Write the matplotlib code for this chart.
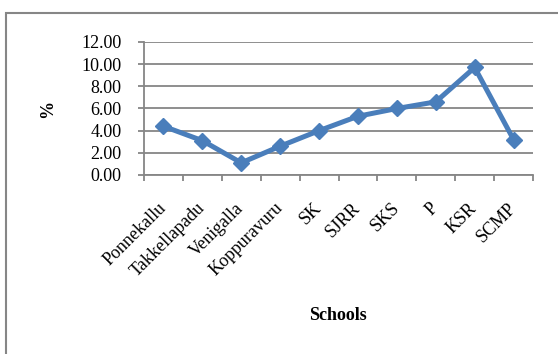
import matplotlib
matplotlib.use("Agg")
import matplotlib.pyplot as plt
from matplotlib.patches import Rectangle
from matplotlib.ticker import FixedLocator

schools = ["Ponnekallu", "Takkellapadu", "Venigalla", "Koppuravuru", "SK",
           "SJRR", "SKS", "P", "KSR", "SCMP"]
percent = [4.4, 3.1, 1.1, 2.6, 4.0, 5.3, 6.0, 6.6, 9.7, 3.2]
yticks = [0, 2, 4, 6, 8, 10, 12]

plt.rcParams['font.family'] = ['Liberation Serif', 'DejaVu Serif']

W, H = 558, 354
fig = plt.figure(figsize=(W / 100, H / 100), dpi=100)
ax = fig.add_axes([144 / W, 1 - 175 / H, (533 - 144) / W, (175 - 42) / H])

grey = "#868686"
blue = "#4A7EBB"
fs = 13

x = range(len(schools))
ax.plot(x, percent, color=blue, lw=3.6, marker="D", ms=8.5,
        solid_joinstyle="miter", zorder=3)

ax.set_xlim(-0.5, len(schools) - 0.5)
ax.set_ylim(0, 12)
ax.set_yticks(yticks)
ax.set_yticklabels(["%.2f" % v for v in yticks], fontsize=fs)
ax.yaxis.grid(True, color=grey, lw=1.3)
ax.set_axisbelow(True)

# labels sit in the middle of each category, ticks mark the boundaries
ax.set_xticks(list(x))
ax.set_xticklabels(schools, rotation=45, ha="right", va="center",
                   rotation_mode="anchor", fontsize=fs)
ax.tick_params(axis="x", which="major", length=0, pad=22)
ax.xaxis.set_minor_locator(FixedLocator([i - 0.5 for i in range(len(schools) + 1)]))
ax.tick_params(axis="x", which="minor", length=4, width=1.3, color=grey,
               direction="out")
ax.tick_params(axis="y", length=4, width=1.3, color=grey, direction="out", pad=12)

for side in ("top", "right"):
    ax.spines[side].set_visible(False)
for side in ("left", "bottom"):
    ax.spines[side].set_color(grey)
    ax.spines[side].set_linewidth(1.3)

ax.set_ylabel("%", fontsize=fs, fontweight="bold")
ax.yaxis.set_label_coords(-88 / 389, 0.5)
fig.text(338 / W, 1 - 315 / H, "Schools", fontsize=fs, fontweight="bold",
         ha="center", va="center")

# chart frame
fig.add_artist(Rectangle((6 / W, -0.1), 1.2, 1 - 13 / H + 0.1,
                         transform=fig.transFigure, fill=False,
                         edgecolor=grey, lw=1.5))

fig.savefig("out.png", dpi=100)
